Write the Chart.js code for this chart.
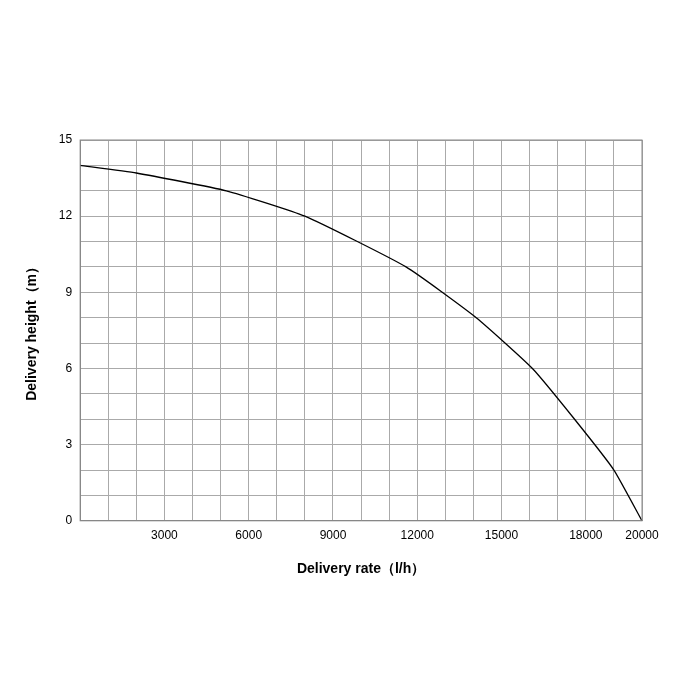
<!DOCTYPE html>
<html>
<head>
<meta charset="utf-8">
<script src="https://cdn.jsdelivr.net/npm/chart.js@4"></script>
<style>
  html, body { margin: 0; background: #fff; }
  #wrap { width: 700px; height: 700px; }
</style>
</head>
<body>
<div id="wrap"><canvas id="pumpChart"></canvas></div>
<script>
// pump curve
const rates = [0, 2000, 5200, 8000, 11600, 14100, 16100, 17600, 19000, 20000];
const heights = [14, 13.7, 13, 12, 10, 8, 6, 4, 2, 0];
const xLabelTicks = [3000, 6000, 9000, 12000, 15000, 18000, 20000];
const yLabelTicks = [0, 3, 6, 9, 12, 15];

const points = rates.map((r, i) => ({ x: r, y: heights[i] }));

new Chart(document.getElementById("pumpChart"), {
    type: "line",
    data: {
        datasets: [{
            data: points,
            borderColor: "#000",
            borderWidth: 1.3,
            pointRadius: 0,
            tension: 0.15,
            fill: false,
        }],
    },
    options: {
        responsive: true,
        maintainAspectRatio: false,
        animation: false,
        layout: { padding: { top: 140, right: 58, left: 20, bottom: 118 } },
        plugins: { legend: { display: false }, tooltip: { enabled: false } },
        scales: {
            x: {
                type: "linear",
                min: 0,
                max: 20000,
                border: { color: "#888" },
                grid: { color: "#aaa", drawTicks: false },
                ticks: {
                    stepSize: 1000,
                    autoSkip: false,
                    maxRotation: 0,
                    padding: 8,
                    color: "#000",
                    font: { family: "Liberation Sans", size: 12 },
                    callback: (v) => (xLabelTicks.includes(v) ? String(v) : ""),
                },
                title: {
                    display: true,
                    text: "Delivery rate（l/h）",
                    color: "#000",
                    font: { family: "Liberation Sans", size: 14, weight: "bold" },
                    padding: { top: 10 },
                },
            },
            y: {
                min: 0,
                max: 15,
                border: { color: "#888" },
                grid: { color: "#aaa", drawTicks: false },
                ticks: {
                    stepSize: 1,
                    autoSkip: false,
                    padding: 8,
                    color: "#000",
                    font: { family: "Liberation Sans", size: 12 },
                    callback: (v) => (yLabelTicks.includes(v) ? String(v) : ""),
                },
                title: {
                    display: true,
                    text: "Delivery height（m）",
                    color: "#000",
                    font: { family: "Liberation Sans", size: 14, weight: "bold" },
                    padding: { bottom: 10 },
                },
            },
        },
    },
    plugins: [{
        // close the plot box on top and right
        id: "frame",
        afterDraw(chart) {
            const a = chart.chartArea, ctx = chart.ctx;
            ctx.save();
            ctx.strokeStyle = "#888";
            ctx.lineWidth = 1;
            ctx.strokeRect(a.left, a.top, a.right - a.left, a.bottom - a.top);
            ctx.restore();
        },
    }],
});
</script>
</body>
</html>
